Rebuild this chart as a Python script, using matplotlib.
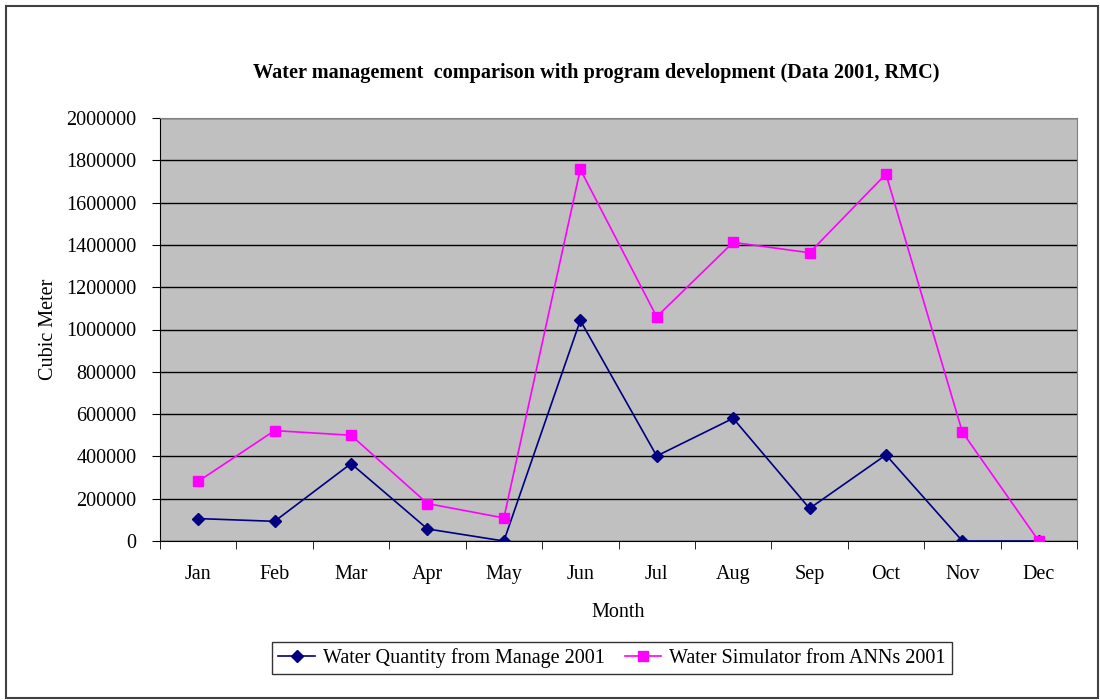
import matplotlib
matplotlib.use("Agg")
import matplotlib.pyplot as plt
from matplotlib.patches import Rectangle

months = ["Jan", "Feb", "Mar", "Apr", "May", "Jun", "Jul", "Aug", "Sep", "Oct", "Nov", "Dec"]
manage_2001 = [106000, 93000, 366000, 57000, 0, 1043000, 402000, 580000, 154000, 407000, 0, 0]
anns_2001 = [282000, 522000, 500000, 177000, 109000, 1757000, 1060000, 1412000, 1363000, 1735000, 515000, 0]
yticks = list(range(0, 2000001, 200000))

plt.rcParams['font.family'] = ['Liberation Serif', 'DejaVu Serif']

fig = plt.figure(figsize=(11, 7), dpi=100)
fig.patches.append(Rectangle((6/1100, 2/700), 1092/1100, 692/700, transform=fig.transFigure,
                             fill=False, edgecolor='#404040', linewidth=1.5))

ax = fig.add_axes([160/1100, 159/700, 917/1100, 423/700])
ax.set_facecolor('#C0C0C0')
x = list(range(len(months)))
ax.plot(x, manage_2001, color='#000080', marker='D', markersize=6, linewidth=1.2,
        label='Water Quantity from Manage 2001', zorder=3)
ax.plot(x, anns_2001, color='#FF00FF', marker='s', markersize=7, linewidth=1.2,
        label='Water Simulator from ANNs 2001', zorder=3)

ax.set_xlim(-0.5, len(months) - 0.5)
ax.set_ylim(0, 2000000)
ax.set_yticks(yticks)
ax.set_yticklabels([str(v) for v in yticks], fontsize=14.5)
ax.yaxis.grid(True, color='black', linewidth=1)
ax.set_axisbelow(True)
ax.set_xticks(x)
ax.set_xticklabels(months, fontsize=14.5)
ax.tick_params(axis='x', which='major', length=0, pad=17)
ax.set_xticks([i - 0.5 for i in range(len(months) + 1)], minor=True)
ax.tick_params(axis='x', which='minor', length=6, direction='out', color='black')
ax.tick_params(axis='y', length=6, direction='out', pad=11)
for s in ['top', 'right']:
    ax.spines[s].set_color('#808080')
for s in ['left', 'bottom']:
    ax.spines[s].set_color('black')

ax.set_ylabel('Cubic Meter', fontsize=14.5, labelpad=6)
ax.set_xlabel('Month', fontsize=14.5, labelpad=14)
fig.text(596/1100, 1 - 73/700, 'Water management  comparison with program development (Data 2001, RMC)',
         ha='center', va='center', fontsize=14.6, fontweight='bold')

leg = fig.legend(loc='center', bbox_to_anchor=(612/1100, 1 - 658/700), ncol=2, fontsize=14.5,
                 frameon=True, fancybox=False, edgecolor='black', handlelength=1.8,
                 columnspacing=1.0, handletextpad=0.4, borderpad=0.3)
leg.get_frame().set_linewidth(1)

fig.savefig('out.png', dpi=100)
